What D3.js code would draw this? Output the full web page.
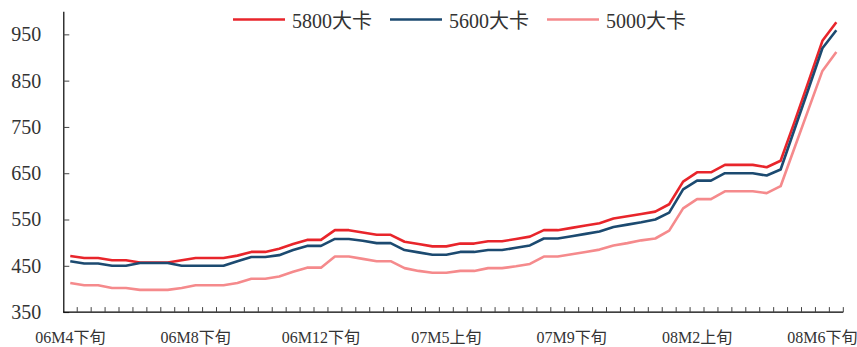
<!DOCTYPE html>
<html>
<head>
<meta charset="utf-8">
<script src="https://cdn.jsdelivr.net/npm/d3@7"></script>
<style>
  body { margin: 0; background: #fff; }
  svg { display: block; }
  text { font-family: "Liberation Serif", "Times New Roman", "Noto Sans CJK SC", serif; fill: #333; }
</style>
</head>
<body>
<svg id="chart" width="857" height="347"></svg>
<script>
// periods (dekads), only some of them get a label on the axis
const periods = [
  "06M4下旬", "06M5上旬", "06M5中旬", "06M5下旬", "06M6上旬", "06M6下旬", "06M7上旬", "06M7中旬", "06M8上旬",
  "06M8下旬", "06M9上旬", "06M9中旬", "06M9下旬", "06M10上旬", "06M10下旬", "06M11上旬", "06M11下旬", "06M12上旬",
  "06M12下旬", "07M1上旬", "07M1下旬", "07M2上旬", "07M2下旬", "07M3上旬", "07M3下旬", "07M4上旬", "07M4下旬",
  "07M5上旬", "07M5中旬", "07M5下旬", "07M6上旬", "07M6下旬", "07M7上旬", "07M7下旬", "07M8上旬", "07M8下旬",
  "07M9下旬", "07M10上旬", "07M10下旬", "07M11上旬", "07M11下旬", "07M12上旬", "07M12下旬", "08M1上旬", "08M1下旬",
  "08M2上旬", "08M2下旬", "08M3上旬", "08M3中旬", "08M3下旬", "08M4上旬", "08M4下旬", "08M5上旬", "08M6上旬",
  "08M6下旬", "08M7上旬"
];
const shownLabels = ["06M4下旬", "06M8下旬", "06M12下旬", "07M5上旬", "07M9下旬", "08M2上旬", "08M6下旬"];

const price5800 = [471, 467, 467, 462, 462, 457, 457, 457, 462, 467, 467, 467, 472, 480,
  480, 487, 497, 506, 506, 527, 527, 522, 517, 517, 502, 497, 492, 492,
  498, 498, 503, 503, 508, 513, 527, 527, 532, 537, 542, 552, 557, 562,
  567, 583, 632, 652, 652, 668, 668, 668, 663, 677, 761, 848, 936, 976];
const price5600 = [460, 455, 455, 450, 450, 456, 456, 456, 450, 450, 450, 450, 460, 469,
  469, 473, 484, 493, 493, 508, 508, 504, 499, 499, 484, 479, 474, 474,
  480, 480, 484, 484, 489, 494, 509, 509, 514, 519, 524, 534, 539, 544,
  550, 565, 615, 634, 634, 650, 650, 650, 645, 658, 745, 832, 920, 959];
const price5000 = [413, 408, 408, 402, 402, 398, 398, 398, 402, 408, 408, 408, 413, 422,
  422, 427, 437, 446, 446, 470, 470, 465, 460, 460, 445, 439, 435, 435,
  439, 439, 445, 445, 449, 454, 470, 470, 475, 480, 485, 494, 499, 505,
  509, 526, 574, 594, 594, 611, 611, 611, 607, 622, 705, 788, 871, 912];

const seriesNames = ["5800大卡", "5600大卡", "5000大卡"];
const seriesColors = ["#e8252b", "#1c4a70", "#f58a8c"];
const yTicks = [350, 450, 550, 650, 750, 850, 950];

let svg = d3.select("#chart");
let plotLeft = 63.3, plotRight = 843.3, plotTop = 11.2, plotBottom = 312.1;

let xScale = d3.scaleBand()
  .domain(periods)
  .range([plotLeft, plotRight]);
let yScale = d3.scaleLinear()
  .domain([350, 1000])
  .range([plotBottom, plotTop]);

// y axis, ticks pointing inward
let yAxis = d3.axisLeft(yScale)
  .tickValues(yTicks)
  .tickSizeInner(-6)
  .tickSizeOuter(0)
  .tickPadding(22);
let gy = svg.append("g")
  .attr("transform", "translate(" + plotLeft + ",0)")
  .call(yAxis);
gy.select(".domain").attr("stroke", "#000").attr("stroke-width", 1.2);
gy.selectAll(".tick line").attr("stroke", "#444");
gy.selectAll(".tick text")
  .style("font-size", "20px")
  .attr("fill", "#333");

// x axis labels
let xAxis = d3.axisBottom(xScale)
  .tickValues(shownLabels)
  .tickSize(0)
  .tickPadding(0);
let gx = svg.append("g")
  .attr("transform", "translate(0," + plotBottom + ")")
  .call(xAxis);
gx.select(".domain").remove();
gx.selectAll(".tick text")
  .attr("dy", null)
  .attr("y", 31)
  .style("font-size", "16px")
  .attr("fill", "#333");

// x axis line and band boundary ticks
svg.append("line")
  .attr("x1", plotLeft).attr("x2", plotRight)
  .attr("y1", plotBottom).attr("y2", plotBottom)
  .attr("stroke", "#000").attr("stroke-width", 1.2);
svg.append("g").selectAll("line")
  .data(periods)
  .enter().append("line")
  .attr("x1", d => xScale(d) + xScale.bandwidth())
  .attr("x2", d => xScale(d) + xScale.bandwidth())
  .attr("y1", plotBottom)
  .attr("y2", plotBottom - 5)
  .attr("stroke", "#444");

// lines
let allSeries = [price5800, price5600, price5000];
let line = d3.line()
  .x((d, i) => xScale(periods[i]) + xScale.bandwidth() / 2)
  .y(d => yScale(d));

svg.append("g").selectAll("path")
  .data(allSeries)
  .enter().append("path")
  .attr("d", d => line(d))
  .attr("fill", "none")
  .attr("stroke", (d, i) => seriesColors[i])
  .attr("stroke-width", 2.6)
  .attr("stroke-linejoin", "round");

// legend
let legendX = [233, 390, 547];
let legend = svg.append("g").selectAll("g")
  .data(seriesNames)
  .enter().append("g")
  .attr("transform", (d, i) => "translate(" + legendX[i] + ",19.5)");
legend.append("line")
  .attr("x1", 0).attr("x2", 52)
  .attr("stroke", (d, i) => seriesColors[i])
  .attr("stroke-width", 2.6);
legend.append("text")
  .attr("x", 59)
  .attr("y", 8.5)
  .style("font-size", "20px")
  .attr("fill", "#333")
  .text(d => d);
</script>
</body>
</html>
